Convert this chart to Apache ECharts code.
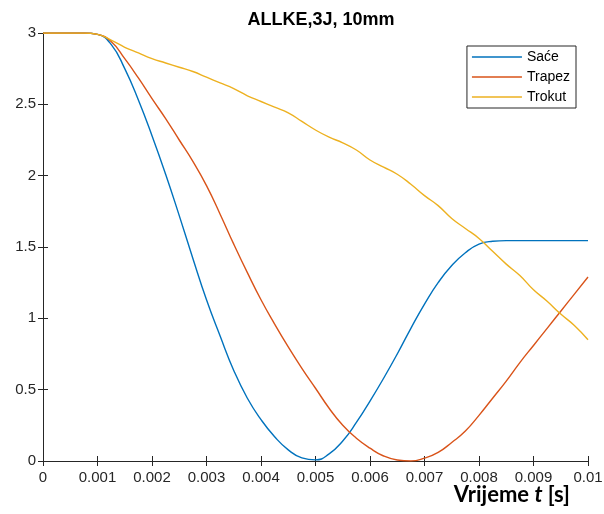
<!DOCTYPE html>
<html>
<head>
<meta charset="utf-8">
<script src="https://cdn.jsdelivr.net/npm/echarts@6/dist/echarts.min.js"></script>
<style>
  html, body { margin: 0; padding: 0; background: #fff; }
  #chart { width: 604px; height: 514px; }
</style>
</head>
<body>
<div id="chart"></div>
<script>
// time steps [s]
const times = [0, 0.00025, 0.0005, 0.00075, 0.001, 0.00125, 0.0015, 0.00175, 0.002, 0.00225,
  0.0025, 0.00275, 0.003, 0.00325, 0.0035, 0.00375, 0.004, 0.00425, 0.0045, 0.00475,
  0.005, 0.00525, 0.0055, 0.00575, 0.006, 0.00625, 0.0065, 0.00675, 0.007, 0.00725,
  0.0075, 0.00775, 0.008, 0.00825, 0.0085, 0.00875, 0.009, 0.00925, 0.0095, 0.00975, 0.01]
const sace = [3, 3, 3, 3, 2.99, 2.92, 2.75, 2.53, 2.28, 2.01,
  1.72, 1.42, 1.13, 0.876, 0.635, 0.44, 0.29, 0.17, 0.078, 0.022,
  0.008, 0.05, 0.14, 0.27, 0.42, 0.58, 0.75, 0.93, 1.10, 1.25,
  1.37, 1.46, 1.52, 1.54, 1.545, 1.545, 1.545, 1.545, 1.545, 1.545, 1.545]
const trapez = [3, 3, 3, 3, 2.99, 2.94, 2.82, 2.685, 2.54, 2.40,
  2.25, 2.10, 1.93, 1.73, 1.52, 1.32, 1.13, 0.96, 0.80, 0.65,
  0.51, 0.37, 0.25, 0.16, 0.09, 0.035, 0.007, 0, 0.02, 0.06,
  0.13, 0.21, 0.32, 0.44, 0.56, 0.69, 0.81, 0.93, 1.05, 1.17, 1.29]
const trokut = [3, 3, 3, 3, 2.99, 2.95, 2.90, 2.86, 2.82, 2.79,
  2.76, 2.73, 2.69, 2.65, 2.61, 2.56, 2.52, 2.48, 2.44, 2.38,
  2.32, 2.27, 2.23, 2.18, 2.11, 2.06, 2.01, 1.94, 1.86, 1.79,
  1.70, 1.63, 1.56, 1.47, 1.38, 1.30, 1.20, 1.12, 1.03, 0.95, 0.85]
const names = ['Saće', 'Trapez', 'Trokut']
const colors = ['#0072BD', '#D95319', '#EDB120']

const myChart = echarts.init(document.getElementById('chart'))
const axisColor = '#262626'
const font = 'Liberation Sans, Arial, sans-serif'

function pairs (vals) {
  return times.map((t, i) => [t, vals[i]])
}

const hiddenAxis = {
  axisLine: { show: true, lineStyle: { color: axisColor, width: 1 } },
  axisTick: { show: true, inside: true, length: 5, lineStyle: { color: axisColor } },
  axisLabel: { show: false },
  splitLine: { show: false }
}

const option = {
  backgroundColor: '#fff',
  color: colors,
  animation: false,
  title: {
    text: 'ALLKE,3J, 10mm',
    left: 316,
    textAlign: 'center',
    top: 6,
    textStyle: { fontFamily: font, fontSize: 18, fontWeight: 'bold', color: '#000' }
  },
  legend: {
    orient: 'vertical',
    right: 28,
    top: 46,
    padding: [4, 6, 4, 5],
    icon: 'rect',
    itemWidth: 50,
    itemHeight: 1.5,
    itemGap: 6,
    borderColor: '#262626',
    borderWidth: 1,
    backgroundColor: '#fff',
    data: names,
    textStyle: { fontFamily: font, fontSize: 14, lineHeight: 14, color: '#000' }
  },
  grid: { left: 43, right: 16, top: 33, bottom: 53, outerBoundsMode: 'none' },
  xAxis: [
    {
      type: 'value',
      min: 0,
      max: 0.01,
      interval: 0.001,
      axisLine: { lineStyle: { color: axisColor, width: 1 } },
      axisTick: { inside: true, length: 5, lineStyle: { color: axisColor } },
      splitLine: { show: false },
      axisLabel: {
        margin: 9,
        fontFamily: font,
        fontSize: 15,
        color: axisColor,
        formatter: v => (v === 0 ? '0' : String(+v.toFixed(3)))
      }
    },
    Object.assign({ type: 'value', position: 'top', min: 0, max: 0.01, interval: 0.001 }, hiddenAxis)
  ],
  yAxis: [
    {
      type: 'value',
      min: 0,
      max: 3,
      interval: 0.5,
      axisLine: { show: true, lineStyle: { color: axisColor, width: 1 } },
      axisTick: { show: true, inside: true, length: 5, lineStyle: { color: axisColor } },
      splitLine: { show: false },
      axisLabel: { margin: 7, fontFamily: font, fontSize: 15, color: axisColor }
    },
    Object.assign({ type: 'value', position: 'right', min: 0, max: 3, interval: 0.5 }, hiddenAxis)
  ],
  graphic: [
    {
      type: 'text',
      right: 34,
      top: 484,
      style: {
        text: '{a|Vrijeme }{b|t}{a| [s]}',
        rich: {
          a: { fontFamily: 'Lato, sans-serif', fontSize: 22, fontWeight: 'bold', fill: '#000' },
          b: { fontFamily: 'Lato, sans-serif', fontSize: 22, fontWeight: 'bold', fontStyle: 'italic', fill: '#000' }
        }
      }
    }
  ],
  series: [sace, trapez, trokut].map((vals, i) => ({
    name: names[i],
    type: 'line',
    data: pairs(vals),
    smooth: 0.5,
    symbol: 'none',
    lineStyle: { width: 1.4, color: colors[i] },
    itemStyle: { color: colors[i] }
  }))
}
myChart.setOption(option)
</script>
</body>
</html>
